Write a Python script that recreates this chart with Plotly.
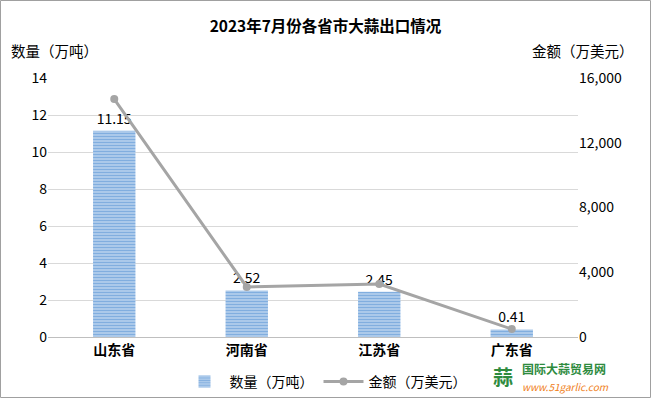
import plotly.graph_objects as go

categories = ["山东省", "河南省", "江苏省", "广东省"]
quantity = [11.15, 2.52, 2.45, 0.41]
amount = [14700, 3090, 3270, 490]
left_ticks = [0, 2, 4, 6, 8, 10, 12, 14]
right_ticks = [0, 4000, 8000, 12000, 16000]
right_labels = ["0", "4,000", "8,000", "12,000", "16,000"]

FONT = "Noto Sans CJK SC"
W, H = 651, 398
L, R, T, B = 48, 73, 78, 61

fig = go.Figure()
fig.add_trace(go.Bar(
    x=categories, y=quantity, name="数量（万吨）",
    width=0.32,
    marker=dict(color="#5B9BD5", line=dict(width=0),
                pattern=dict(shape="-", fgcolor="#4A8AD0", bgcolor="#B8D2EE",
                             size=3, solidity=0.5)),
    text=[f"{v:.2f}" for v in quantity], textposition="outside",
    textfont=dict(family=FONT, size=14, color="#000000"),
    cliponaxis=False,
))
fig.add_trace(go.Scatter(
    x=categories, y=amount, name="金额（万美元）", yaxis="y2",
    mode="lines+markers",
    line=dict(color="#A5A5A5", width=3),
    marker=dict(color="#A5A5A5", size=8),
))

pw = W - L - R
ph = H - T - B
fig.add_shape(type="rect", xref="paper", yref="paper",
              x0=-L / pw + 0.5 / pw, x1=(W - L - 0.5) / pw,
              y0=-B / ph + 0.5 / ph, y1=(H - B - 0.5) / ph,
              line=dict(color="#A0A0A0", width=1), layer="below")

fig.update_layout(
    width=W, height=H,
    margin=dict(l=L, r=R, t=T, b=B, autoexpand=False),
    paper_bgcolor="white", plot_bgcolor="white",
    font=dict(family=FONT, size=14, color="#000000"),
    title=dict(text="<b>2023年7月份各省市大蒜出口情况</b>", x=0.5, xref="container",
               xanchor="center", y=1 - 27 / H, yanchor="middle",
               font=dict(family=FONT, size=15.5, color="#000000")),
    xaxis=dict(tickfont=dict(family=FONT, size=14, color="#000000"),
               showline=True, linecolor="#BFBFBF", linewidth=1, ticks="",
               showgrid=False, tickprefix="<b>", ticksuffix="</b>", automargin=False),
    yaxis=dict(range=[0, 14], tickvals=left_ticks, showgrid=True,
               gridcolor="#D9D9D9", gridwidth=1, zeroline=False,
               tickfont=dict(family=FONT, size=14, color="#000000"),
               ticks="", automargin=False),
    yaxis2=dict(range=[0, 16000], tickvals=right_ticks, ticktext=right_labels,
                overlaying="y", side="right", showgrid=False, zeroline=False,
                tickfont=dict(family=FONT, size=14, color="#000000"), automargin=False),
    legend=dict(orientation="h", xref="container", yref="container",
                x=0.5, xanchor="center", y=16 / H, yanchor="middle",
                font=dict(family=FONT, size=14, color="#000000"),
                itemwidth=40, bgcolor="rgba(0,0,0,0)"),
    showlegend=True,
    annotations=[
        dict(text="数量（万吨）", xref="paper", yref="paper", x=-L / pw + 9 / pw,
             xanchor="left", y=(H - B - 50) / ph, yanchor="middle", showarrow=False,
             font=dict(family=FONT, size=14.5, color="#000000")),
        dict(text="金额（万美元）", xref="paper", yref="paper", x=(W - L - 15) / pw,
             xanchor="right", y=(H - B - 50) / ph, yanchor="middle", showarrow=False,
             font=dict(family=FONT, size=14.5, color="#000000")),
        dict(text="<b>蒜</b>", xref="paper", yref="paper", x=(503 - L) / pw,
             xanchor="center", y=(H - B - 376) / ph, yanchor="middle", showarrow=False,
             font=dict(family=FONT, size=20, color="#2E8B3E")),
        dict(text="<b>国际大蒜贸易网</b>", xref="paper", yref="paper", x=(520 - L) / pw,
             xanchor="left", y=(H - B - 368) / ph, yanchor="middle", showarrow=False,
             font=dict(family=FONT, size=12, color="#2E8B3E")),
        dict(text="<i>www.51garlic.com</i>", xref="paper", yref="paper", x=(520 - L) / pw,
             xanchor="left", y=(H - B - 386) / ph, yanchor="middle", showarrow=False,
             font=dict(family=FONT, size=10, color="#F08020")),
    ],
)

fig.write_html("out.html", config={"displayModeBar": False},
               post_script="document.body.style.margin='0';document.body.style.overflow='hidden';")
